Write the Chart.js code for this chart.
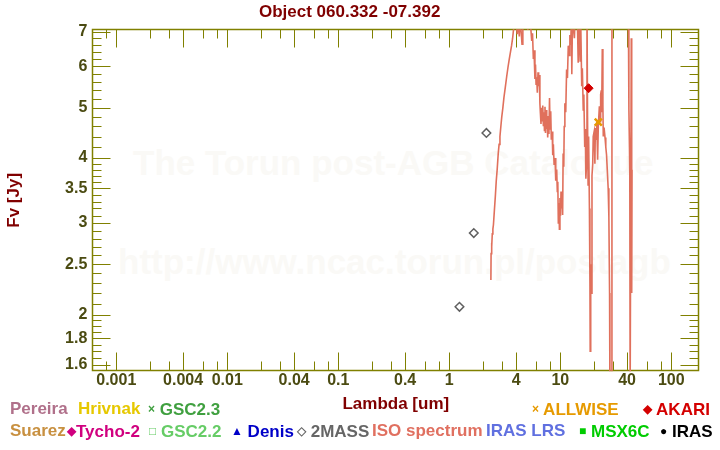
<!DOCTYPE html>
<html>
<head>
<meta charset="utf-8">
<script src="https://cdn.jsdelivr.net/npm/chart.js@4.4.1/dist/chart.umd.min.js"></script>
<style>
    body { margin: 0; background: #fff; }
    #quadro { position: relative; width: 720px; height: 450px; overflow: hidden;
        font-family: "Liberation Sans", Arial, sans-serif; font-weight: bold; }
    #grafico { position: absolute; left: 0; top: 0; }
    .marca { position: absolute; color: #faf9f6; font-size: 35px; line-height: 40px; white-space: nowrap; }
    .leg { position: absolute; font-size: 17px; line-height: 20px; white-space: nowrap; }
    .sim { font-size: 12px; vertical-align: 2px; }
</style>
</head>
<body>
<div id="quadro">
    <div class="marca" style="left:133px;top:143px">The Torun post-AGB Catalogue</div>
    <div class="marca" style="left:118px;top:242px">http://www.ncac.torun.pl/postagb</div>
    <canvas id="grafico" width="720" height="450"></canvas>

    <span class="leg" style="left:10px;top:399px;color:#b0708a">Pereira</span>
    <span class="leg" style="left:78px;top:399px;color:#e6c800">Hrivnak</span>
    <span class="leg" style="left:148px;top:399px;color:#40a040"><span class="sim">×</span> GSC2.3</span>
    <span class="leg" style="left:532px;top:399px;color:#e69a00"><span class="sim">×</span> ALLWISE</span>
    <span class="leg" style="left:643px;top:399px;color:#d40000"><span class="sim">◆</span> AKARI</span>

    <span class="leg" style="left:10px;top:421px;color:#c89040">Suarez</span>
    <span class="leg" style="left:67px;top:421px;color:#d0007f"><span class="sim">◆</span>Tycho-2</span>
    <span class="leg" style="left:149px;top:421px;color:#66cc66"><span class="sim">□</span> GSC2.2</span>
    <span class="leg" style="left:231px;top:421px;color:#0000c8"><span class="sim">▲</span> Denis</span>
    <span class="leg" style="left:297px;top:421px;color:#666666"><span class="sim">◇</span> 2MASS</span>
    <span class="leg" style="left:372px;top:421px;color:#e07060">ISO spectrum</span>
    <span class="leg" style="left:486px;top:421px;color:#6070e0">IRAS LRS</span>
    <span class="leg" style="left:579px;top:421px;color:#00cc00"><span class="sim">■</span> MSX6C</span>
    <span class="leg" style="left:660px;top:421px;color:#000000"><span class="sim">●</span> IRAS</span>
</div>

<script>
// espectro ISO (lambda em um, fluxo em Jy)
const isoLambda = [
    2.37, 2.38, 2.40, 2.42, 2.44, 2.47, 2.50, 2.55, 2.60, 2.65,
    2.70, 2.76, 2.81, 2.86, 2.92, 2.97, 3.04, 3.11, 3.20, 3.29,
    3.38, 3.47, 3.56, 3.64, 3.72, 3.80, 3.90, 4.00, 4.10, 4.18,
    4.27, 4.35, 4.45, 4.52, 4.60, 4.75, 4.90, 5.00, 5.10, 5.25,
    5.40, 5.53, 5.62, 5.72, 5.80, 5.91, 5.98, 6.05, 6.13, 6.21,
    6.30, 6.38, 6.47, 6.55, 6.62, 6.70, 6.78, 6.86, 6.95, 7.04,
    7.12, 7.20, 7.28, 7.36, 7.45, 7.55, 7.62, 7.70, 7.82, 7.90,
    8.00, 8.09, 8.20, 8.30, 8.45, 8.55, 8.66, 8.80, 8.97, 9.10,
    9.28, 9.40, 9.50, 9.60, 9.72, 9.82, 9.93, 10.05, 10.15, 10.27,
    10.40, 10.50, 10.61, 10.75, 10.85, 11.0, 11.2, 11.4, 11.6, 11.8,
    12.0, 12.2, 12.4, 12.6, 12.7, 12.9, 13.1, 13.4, 13.6, 13.9,
    14.2, 14.5, 14.8, 15.1, 15.3, 15.6, 15.8, 16.1, 16.3, 16.6,
    16.8, 17.0, 17.2, 17.4, 17.6, 17.8, 18.0, 18.3, 18.5, 18.6,
    18.8, 19.0, 19.3, 19.6, 19.8, 20.2, 20.5, 20.7, 21.0, 21.3,
    21.7, 22.0, 22.5, 22.8, 23.1, 23.4, 23.6, 23.9, 24.2, 24.4,
    24.8, 25.3, 25.7, 26.1, 26.5, 27.0, 27.4, 27.8, 28.0, 28.5,
    28.8, 29.2, 31.0, 35.0, 39.0, 41.0, 41.5, 42.0, 42.3, 42.6,
    43.2, 43.6, 44.0, 44.3
];
const isoFluxo = [
    2.33, 2.62, 2.75, 2.70, 2.86, 2.92, 2.98, 3.18, 3.38, 3.62,
    3.80, 4.08, 4.25, 4.40, 4.62, 4.80, 5.00, 5.24, 5.48, 5.74,
    5.98, 6.20, 6.40, 6.58, 6.80, 7.10, 7.60, 7.30, 6.92, 7.50,
    6.85, 7.40, 6.95, 6.62, 7.30, 7.80, 7.20, 7.60, 7.05, 7.70,
    7.20, 6.72, 6.95, 6.20, 6.45, 5.68, 6.05, 5.55, 5.72, 5.34,
    5.85, 5.50, 5.78, 5.10, 4.88, 4.65, 5.00, 4.72, 5.05, 4.62,
    4.90, 4.52, 5.02, 4.47, 4.95, 4.55, 4.82, 4.38, 4.75, 4.45,
    5.22, 4.55, 4.92, 4.34, 4.50, 4.05, 4.25, 3.88, 4.00, 3.62,
    3.80, 3.45, 3.60, 3.00, 3.28, 2.92, 3.35, 3.10, 3.45, 3.20,
    3.40, 3.11, 4.08, 3.85, 4.60, 5.10, 4.90, 5.92, 5.70, 6.58,
    6.30, 6.90, 6.60, 7.40, 5.80, 7.60, 7.20, 6.80, 7.50, 7.10,
    7.70, 6.10, 7.40, 6.15, 7.20, 5.50, 5.95, 4.95, 5.30, 4.20,
    4.55, 3.65, 3.85, 8.00, 4.80, 3.55, 4.40, 3.20, 2.30, 1.70,
    2.50, 2.20, 3.70, 3.90, 4.40, 4.50, 3.90, 4.57, 4.35, 4.70,
    3.97, 4.60, 5.03, 4.70, 5.30, 5.40, 4.90, 6.48, 5.05, 4.40,
    4.58, 4.38, 4.20, 4.06, 3.80, 3.50, 3.08, 2.20, 1.40, 1.45,
    1.40, 9.00, 10.0, 11.0, 9.50, 8.00, 4.97, 4.20, 3.68, 1.40,
    1.40, 6.80, 2.20, 3.80
];

// fotometria
const twoMassLambda = [1.235, 1.662, 2.159];
const twoMassFluxo = [2.07, 2.87, 4.47];
const akariLambda = [18.0];
const akariFluxo = [5.45];
const allwiseLambda = [22.0];
const allwiseFluxo = [4.69];

// eixos
const ticksX = [0.001, 0.004, 0.01, 0.04, 0.1, 0.4, 1, 4, 10, 40, 100];
const ticksXMenores = [0.0008, 0.002, 0.003, 0.006, 0.008, 0.02, 0.03, 0.06, 0.08,
    0.2, 0.3, 0.6, 0.8, 2, 3, 6, 8, 20, 30, 60, 80];
const ticksY = [1.6, 1.8, 2, 2.5, 3, 3.5, 4, 5, 6, 7];
const ticksYMenores = [1.65, 1.7, 1.75, 1.85, 1.9, 1.95, 2.1, 2.2, 2.3, 2.4,
    2.6, 2.7, 2.8, 2.9, 3.1, 3.2, 3.3, 3.4, 3.6, 3.7, 3.8, 3.9,
    4.2, 4.4, 4.6, 4.8, 5.2, 5.4, 5.6, 5.8, 6.2, 6.4, 6.6, 6.8];

const corEixo = "#808000";
const corRotulo = "#4b4b12";
const corTitulo = "#800000";

function pontos(xs, ys) {
    return xs.map((x, i) => ({ x, y: ys[i] }));
}

const molduraETicks = {
    id: "molduraETicks",
    beforeDatasetsDraw(chart) {
        const { ctx, chartArea: a, scales: { x, y } } = chart;
        const esq = Math.round(a.left) + 0.5;
        const dir = Math.round(a.right) - 0.5;
        const topo = Math.round(a.top) + 0.5;
        const base = Math.round(a.bottom) - 0.5;

        ctx.save();
        ctx.strokeStyle = corEixo;
        ctx.lineWidth = 1;
        ctx.beginPath();

        const marcaX = (v, tam) => {
            const px = Math.round(x.getPixelForValue(v)) + 0.5;
            if (px < esq || px > dir) return;
            ctx.moveTo(px, base); ctx.lineTo(px, base - tam);
            ctx.moveTo(px, topo); ctx.lineTo(px, topo + tam);
        };
        const marcaY = (v, tam) => {
            const py = Math.round(y.getPixelForValue(v)) + 0.5;
            if (py < topo || py > base) return;
            ctx.moveTo(esq, py); ctx.lineTo(esq + tam, py);
            ctx.moveTo(dir, py); ctx.lineTo(dir - tam, py);
        };

        ticksX.forEach(v => marcaX(v, 18));
        ticksXMenores.forEach(v => marcaX(v, 9));
        ticksY.forEach(v => marcaY(v, 18));
        ticksYMenores.forEach(v => marcaY(v, 9));
        ctx.stroke();

        ctx.lineWidth = 1.5;
        ctx.strokeRect(esq, topo, dir - esq, base - topo);
        ctx.restore();
    }
};

Chart.defaults.font.family = '"Liberation Sans", Arial, sans-serif';

new Chart(document.getElementById("grafico"), {
    type: "scatter",
    data: {
        datasets: [
            {
                label: "AKARI",
                data: pontos(akariLambda, akariFluxo),
                pointStyle: "rectRot",
                pointRadius: 4.5,
                backgroundColor: "#d40000",
                borderColor: "#d40000",
                borderWidth: 1
            },
            {
                label: "ALLWISE",
                data: pontos(allwiseLambda, allwiseFluxo),
                pointStyle: "crossRot",
                pointRadius: 5,
                borderColor: "#e69a00",
                borderWidth: 2.5
            },
            {
                label: "2MASS",
                data: pontos(twoMassLambda, twoMassFluxo),
                pointStyle: "rectRot",
                pointRadius: 4.3,
                backgroundColor: "#ffffff",
                borderColor: "#606060",
                borderWidth: 1.5
            },
            {
                label: "ISO spectrum",
                data: pontos(isoLambda, isoFluxo),
                showLine: true,
                pointRadius: 0,
                borderColor: "#e0705c",
                borderWidth: 1.6,
                tension: 0
            }
        ]
    },
    options: {
        responsive: false,
        animation: false,
        layout: { padding: { left: 0, top: 0, right: 20.7, bottom: 0 } },
        plugins: {
            legend: { display: false },
            tooltip: { enabled: false },
            title: {
                display: true,
                text: "Object 060.332 -07.392",
                color: corTitulo,
                font: { size: 17, weight: "bold" },
                padding: { top: 1.8, bottom: 7.1 }
            }
        },
        scales: {
            x: {
                type: "logarithmic",
                min: 0.000608,
                max: 178.8,
                bounds: "data",
                grid: { display: false, drawTicks: false },
                border: { display: false },
                afterBuildTicks: escala => { escala.ticks = ticksX.map(v => ({ value: v })); },
                afterFit: escala => { escala.height = 78.7; },
                ticks: {
                    autoSkip: false,
                    maxRotation: 0,
                    padding: 0,
                    color: corRotulo,
                    font: { size: 16, weight: "bold" },
                    callback: v => String(v)
                },
                title: {
                    display: true,
                    text: "Lambda [um]",
                    color: corTitulo,
                    font: { size: 17, weight: "bold" },
                    padding: { top: 0, bottom: 35.8 }
                }
            },
            y: {
                type: "logarithmic",
                min: 1.556,
                max: 7.074,
                bounds: "data",
                grid: { display: false, drawTicks: false },
                border: { display: false },
                afterBuildTicks: escala => { escala.ticks = ticksY.map(v => ({ value: v })); },
                afterFit: escala => { escala.width = 92.3; },
                ticks: {
                    autoSkip: false,
                    padding: 5,
                    color: corRotulo,
                    font: { size: 16, weight: "bold" },
                    callback: v => String(v)
                },
                title: {
                    display: true,
                    text: "Fv [Jy]",
                    color: corTitulo,
                    font: { size: 17, weight: "bold" },
                    padding: { top: 3.8, bottom: 0 }
                }
            }
        }
    },
    plugins: [molduraETicks]
});
</script>
</body>
</html>
